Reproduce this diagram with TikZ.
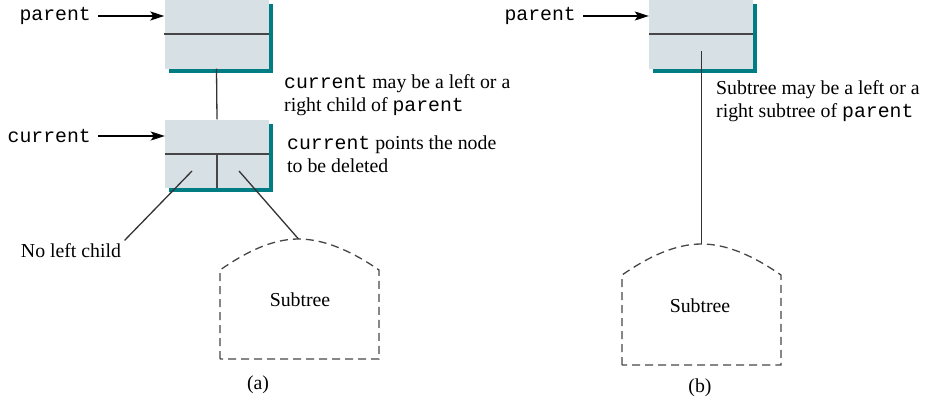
\documentclass[tikz,border=0pt]{standalone}
\usepackage{fontspec}
\setmainfont{Liberation Serif}
\setmonofont{Liberation Mono}
\usetikzlibrary{arrows.meta, positioning, shadows}
\definecolor{boxfill}{RGB}{215,224,229}
\definecolor{shadowteal}{RGB}{0,125,130}
\definecolor{linegray}{RGB}{70,70,70}

\begin{document}
\begin{tikzpicture}[x=1pt,y=-1pt,
    font=\fontsize{19.8}{23}\selectfont,
    treenode/.style={rectangle,fill=boxfill,minimum width=104pt,minimum height=68pt,
                     inner sep=0pt,
                     drop shadow={shadow xshift=4pt,shadow yshift=-4pt,fill=shadowteal,opacity=1}},
    divider/.style={draw=linegray,line width=2pt},
    link/.style={draw=black!80,line width=1.3pt},
    ptr/.style={-{Stealth[length=14pt,width=9pt,inset=3pt]},line width=1.3pt},
    subtree/.style={draw=linegray,line width=1.3pt,dash pattern=on 8pt off 5pt},
    note/.style={align=left,anchor=west,inner sep=0pt}
]
  \useasboundingbox (0,0) rectangle (936,404);

  % (a) parent and current
  \node[treenode] (parA) at (216.5,34.5) {};
  \node[treenode] (cur) at (217,153.5) {};
  \draw[divider] (parA.west) -- (parA.east);
  \draw[divider] (cur.west) -- (cur.east);
  \draw[divider] (cur.center) -- (cur.south);
  \draw[link] (parA.south) -- (cur.north);

  \node[anchor=east,inner sep=0pt] (parAlbl) at (91,16) {\texttt{parent}};
  \node[anchor=east,inner sep=0pt] (curlbl) at (91,136) {\texttt{current}};
  \draw[ptr] (parAlbl.east) ++(7,0) coordinate (parAtail) -- (parA.west |- parAtail);
  \draw[ptr] (curlbl.east) ++(7,0) coordinate (curtail) -- (cur.west |- curtail);

  \node[note] (noteA1) at (284,95.5) {\texttt{current} may be a left or a\\right child of \texttt{parent}};
  \node[note] (noteA2) at (287,154.5) {\texttt{current} points the node\\to be deleted};

  % (a) subtree
  \coordinate (topA) at (298.5,239);
  \draw[subtree] (220,359) -- (220,270) .. controls (246,252) and (272,239) .. (topA)
    .. controls (325,239) and (353,252) .. (379,270) -- (379,359) -- cycle;
  \node (subA) at (300,300) {Subtree};
  \node (nolbl) at (71,251) {No left child};

  \coordinate (curL) at (192,171);
  \coordinate (curR) at (239,171);
  \draw[link] (curL) -- (nolbl.north east);
  \draw[link] (curR) -- (topA);
  \node (capA) at (258,385) {(a)};

  % (b) parent with its subtree
  \node[treenode] (parB) at (701,34.5) {};
  \draw[divider] (parB.west) -- (parB.east);
  \node[anchor=east,inner sep=0pt] (parBlbl) at (576,16) {\texttt{parent}};
  \draw[ptr] (parBlbl.east) ++(7,0) coordinate (parBtail) -- (parB.west |- parBtail);

  \coordinate (topB) at (701.5,244);
  \draw[subtree] (622,365) -- (622,275) .. controls (648,257) and (675,244) .. (topB)
    .. controls (728,244) and (755,257) .. (781,275) -- (781,365) -- cycle;
  \node (subB) at (700,306) {Subtree};
  \coordinate (parBdown) at (701.5,51);
  \draw[link] (parBdown) -- (topB);

  \node[note] (noteB) at (716,101.5) {Subtree may be a left or a\\right subtree of \texttt{parent}};
  \node (capB) at (700,388) {(b)};
\end{tikzpicture}
\end{document}
